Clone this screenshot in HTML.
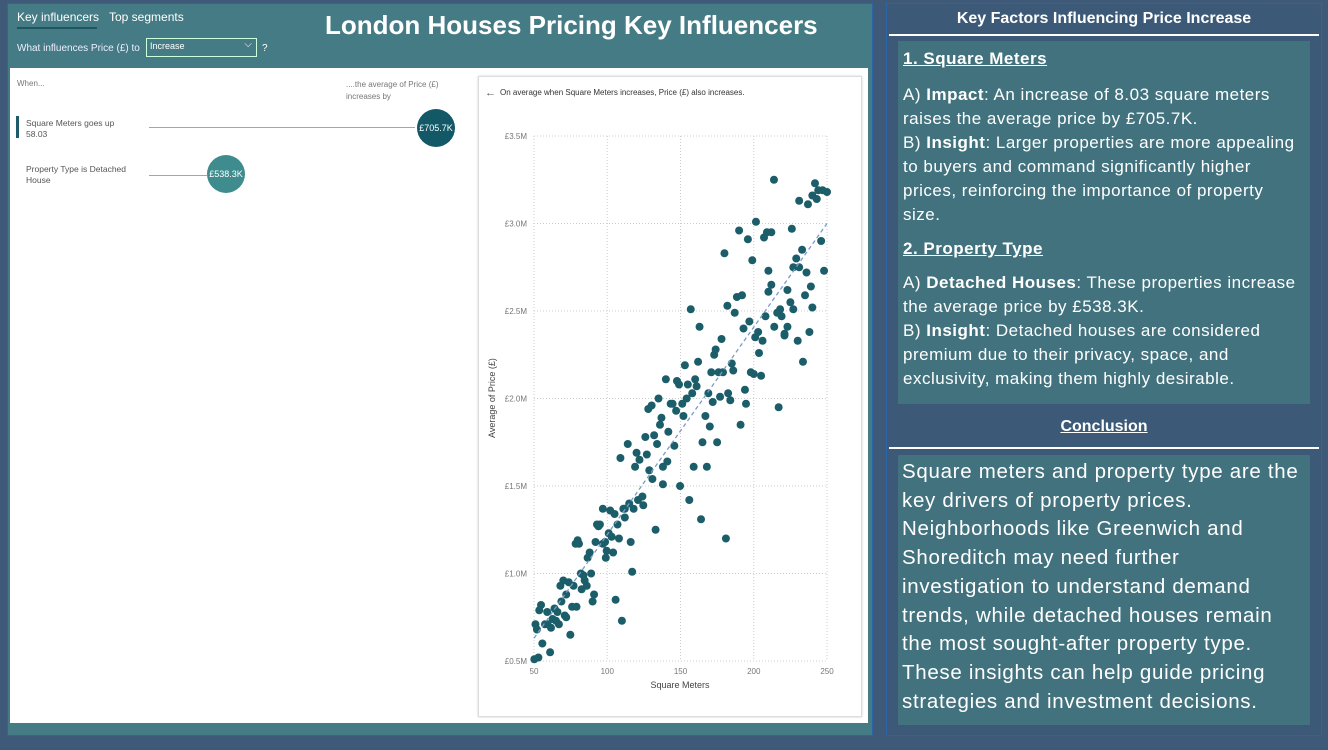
<!DOCTYPE html>
<html><head><meta charset="utf-8"><style>
*{box-sizing:border-box;margin:0;padding:0}
body{width:1328px;height:750px;background:#3e5a78;font-family:"Liberation Sans",sans-serif;position:relative;overflow:hidden}
.abs{position:absolute}
#left{left:7px;top:3px;width:866px;height:733px;background:#457b84;border:1px solid #2c64a8}
#white{left:10px;top:68px;width:858px;height:655px;background:#fff}
#card{left:478px;top:76px;width:384px;height:641px;background:#fff;border:1px solid #ddd;box-shadow:0 0 2px #ccc}
#right{left:886px;top:3px;width:436px;height:733px;border:1px solid #2c64a8;background:#3c5a78}
.rt{color:#fff;font-family:"Liberation Sans",sans-serif}
.tbox{background:#41727e;color:#fff;font-size:17px;line-height:24px;padding:6px 5px;letter-spacing:0.5px}
</style></head><body>
<div id="left" class="abs"></div>
<div class="abs" style="left:17px;top:10px;font-size:12px;color:#fff">Key influencers</div>
<div class="abs" style="left:17px;top:27px;width:80px;height:2px;background:#1f5560"></div>
<div class="abs" style="left:109px;top:10px;font-size:12px;color:#fff">Top segments</div>
<div class="abs" style="left:17px;top:43px;font-size:10px;color:#eef">What influences Price (£) to</div>
<div class="abs" style="left:146px;top:38px;width:111px;height:19px;border:1px solid #cfd;font-size:9px;color:#fff;padding:2px 3px">Increase<span style="position:absolute;right:4px;top:0px;font-size:10px">⌵</span></div>
<div class="abs" style="left:262px;top:43px;font-size:10px;color:#fff">?</div>
<div class="abs" style="left:325px;top:10px;width:515px;font-size:26px;font-weight:bold;color:#fff;font-family:'Liberation Sans',sans-serif;white-space:nowrap">London Houses Pricing Key Influencers</div>
<div id="white" class="abs"></div>
<div class="abs" style="left:17px;top:79px;font-size:8px;color:#777">When...</div>
<div class="abs" style="left:346px;top:79px;font-size:8px;color:#777;line-height:12px">....the average of Price (£)<br>increases by</div>
<div class="abs" style="left:16px;top:116px;width:3px;height:22px;background:#1d5a6a"></div>
<div class="abs" style="left:26px;top:118px;font-size:8.5px;color:#555;line-height:11px">Square Meters goes up<br>58.03</div>
<div class="abs" style="left:149px;top:127px;width:266px;height:1px;background:#7ba"></div>
<div class="abs" style="left:417px;top:109px;width:38px;height:38px;border-radius:50%;background:#135866;color:#fff;font-size:9px;text-align:center;line-height:38px">£705.7K</div>
<div class="abs" style="left:26px;top:164px;font-size:8.5px;color:#555;line-height:11px">Property Type is Detached<br>House</div>
<div class="abs" style="left:149px;top:175px;width:58px;height:1px;background:#7ba"></div>
<div class="abs" style="left:207px;top:155px;width:38px;height:38px;border-radius:50%;background:#3f8c8e;color:#fff;font-size:9px;text-align:center;line-height:38px">£538.3K</div>
<div id="card" class="abs"></div>
<svg class="abs" style="left:0;top:0" width="1328" height="750" id="chart"></svg>
<div id="right" class="abs"></div>
<div class="abs rt" style="left:887px;top:10px;width:434px;text-align:center;font-size:16px;font-weight:bold">Key Factors Influencing Price Increase</div>
<div class="abs" style="left:889px;top:34px;width:430px;height:2px;background:#fff"></div>
<div class="abs tbox" style="left:898px;top:41px;width:412px;height:363px">
<div style="font-weight:bold;text-decoration:underline;margin-bottom:12px">1. Square Meters</div>
<div>A) <b>Impact</b>: An increase of 8.03 square meters raises the average price by £705.7K.<br>B) <b>Insight</b>: Larger properties are more appealing to buyers and command significantly higher prices, reinforcing the importance of property size.</div>
<div style="font-weight:bold;text-decoration:underline;margin:10px 0 10px">2. Property Type</div>
<div>A) <b>Detached Houses</b>: These properties increase the average price by £538.3K.<br>B) <b>Insight</b>: Detached houses are considered premium due to their privacy, space, and exclusivity, making them highly desirable.</div>
</div>
<div class="abs rt" style="left:887px;top:418px;width:434px;text-align:center;font-size:16px;font-weight:bold;text-decoration:underline">Conclusion</div>
<div class="abs" style="left:889px;top:447px;width:430px;height:2px;background:#fff"></div>
<div class="abs tbox" style="left:898px;top:455px;width:412px;height:270px;font-size:20.5px;line-height:28.7px;padding:3px 4px;letter-spacing:0.7px">Square meters and property type are the key drivers of property prices. Neighborhoods like Greenwich and Shoreditch may need further investigation to understand demand trends, while detached houses remain the most sought-after property type. These insights can help guide pricing strategies and investment decisions.</div>
<script>
const xTicks=[50,100,150,200,250];
const yTicks=[0.5,1.0,1.5,2.0,2.5,3.0,3.5];
const yTickLabels=["£0.5M","£1.0M","£1.5M","£2.0M","£2.5M","£3.0M","£3.5M"];
const sqm=[213.8,241.8,244,247,250,240,243,231,237,201.5,226,190,209,212,196,207,246,233,180,199,229,227,231,210,236,248,212,210,223,239,235,188.5,192,182,225,157,187,208,216,218,219,227,240,197,163,193,214,223,203,238,178,201,206,221,221,230,174,173,203.6,162,185,233.6,153,186,179,176,171,198,200,205,140,147.6,149,155,160,161,194,158,169,182.5,177,135,143.3,144.6,151.2,154.2,172,184,194.7,217,191,128,130.3,137,147,152,167,170,136,141.7,132,126,134,145.8,114,165,175,109,120,127,122,141,119,138,159,168,128.7,130.8,138,149.7,156,164,181,115,121,124,124.6,111,112,118,97,102,105,112,93,94,95,107,133,101,103,108,79.8,78.4,80.7,92,97,98.5,116,99.6,104,88,86.6,99,82,83.7,89,117,84.6,70,73.7,68,77,86,82.5,72,91,68.7,90,105.7,54.8,53.6,64,79,76,59,66,71,72,62.7,65,67,57.5,59.3,61.6,51,52,110,55.7,74.8,61,53,50.2];
const price=[3.25,3.23,3.19,3.19,3.18,3.16,3.14,3.13,3.11,3.01,2.97,2.96,2.95,2.95,2.91,2.92,2.90,2.85,2.83,2.79,2.80,2.75,2.75,2.73,2.72,2.73,2.65,2.61,2.62,2.64,2.59,2.58,2.59,2.53,2.55,2.51,2.49,2.47,2.49,2.51,2.47,2.51,2.52,2.44,2.41,2.40,2.41,2.41,2.38,2.38,2.34,2.35,2.33,2.37,2.36,2.33,2.28,2.25,2.26,2.21,2.20,2.21,2.19,2.16,2.15,2.15,2.15,2.15,2.14,2.13,2.11,2.10,2.08,2.08,2.11,2.07,2.05,2.03,2.03,2.03,2.01,2.00,1.97,1.97,1.97,2.00,1.98,1.99,1.97,1.95,1.85,1.94,1.96,1.89,1.93,1.90,1.90,1.84,1.85,1.81,1.79,1.78,1.74,1.73,1.74,1.75,1.75,1.66,1.69,1.68,1.65,1.64,1.61,1.61,1.61,1.61,1.59,1.54,1.51,1.50,1.42,1.31,1.20,1.40,1.42,1.44,1.39,1.37,1.37,1.37,1.37,1.36,1.34,1.32,1.28,1.27,1.28,1.28,1.25,1.23,1.21,1.20,1.19,1.17,1.17,1.18,1.17,1.18,1.18,1.13,1.12,1.12,1.09,1.09,1.00,0.99,1.00,1.01,0.96,0.96,0.95,0.93,0.93,0.93,0.91,0.88,0.88,0.84,0.84,0.85,0.82,0.79,0.80,0.81,0.81,0.78,0.78,0.76,0.75,0.74,0.73,0.71,0.71,0.71,0.69,0.71,0.68,0.73,0.60,0.65,0.55,0.52,0.51];
const trendStart=[50,0.63], trendEnd=[250,3.0];
const svg=document.getElementById('chart');const NS='http://www.w3.org/2000/svg';
const X0=534,X1=827,Y0=661,Y1=136;
const xs=v=>X0+(v-50)/200*(X1-X0);
const ys=v=>Y0-(v-0.5)/3*(Y0-Y1);
function mk(t,a){const e=document.createElementNS(NS,t);for(const k in a)e.setAttribute(k,a[k]);svg.appendChild(e);return e;}
let t=mk('text',{x:500,y:95,'font-size':8,fill:'#333','font-family':'Liberation Sans'});t.textContent='On average when Square Meters increases, Price (£) also increases.';

let b=mk('text',{x:485,y:96,'font-size':11,fill:'#555'});b.textContent='←';

yTicks.forEach((v,i)=>{const g=mk('line',{x1:X0,x2:X1,y1:ys(v),y2:ys(v),stroke:'#ccc','stroke-dasharray':'1,2'});

const l=mk('text',{x:527,y:ys(v)+3,'font-size':8,fill:'#777','text-anchor':'end','font-family':'Liberation Sans'});l.textContent=yTickLabels[i];
});
xTicks.forEach(v=>{const g=mk('line',{x1:xs(v),x2:xs(v),y1:Y1,y2:Y0,stroke:'#ccc','stroke-dasharray':'1,2'});

const l=mk('text',{x:xs(v),y:Y0+13,'font-size':8,fill:'#777','text-anchor':'middle','font-family':'Liberation Sans'});l.textContent=v;
});
let xt=mk('text',{x:680,y:688,'font-size':9,fill:'#444','text-anchor':'middle','font-family':'Liberation Sans'});xt.textContent='Square Meters';

let yt=mk('text',{x:0,y:0,'font-size':9,fill:'#444','text-anchor':'middle','font-family':'Liberation Sans',transform:'translate(495,398) rotate(-90)'});yt.textContent='Average of Price (£)';

sqm.forEach((v,i)=>{const c=mk('circle',{cx:xs(v),cy:ys(price[i]),r:4,fill:'#1b5e69'});
});
const tl=mk('line',{x1:xs(trendStart[0]),y1:ys(trendStart[1]),x2:xs(trendEnd[0]),y2:ys(trendEnd[1]),stroke:'#7a9bc8','stroke-width':1.3,'stroke-dasharray':'4,3'});

</script>
</body></html>
